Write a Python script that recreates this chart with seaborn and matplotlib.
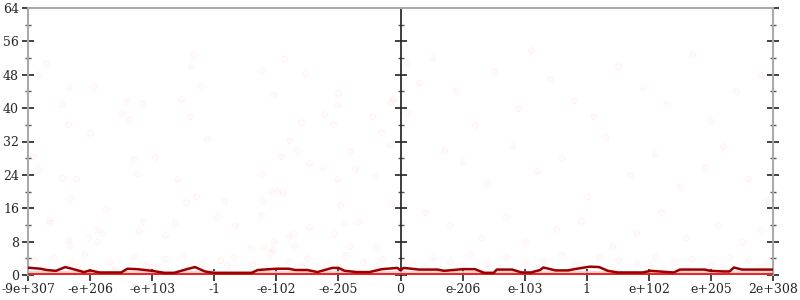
import numpy as np
import pandas as pd
import matplotlib
matplotlib.use("Agg")
import matplotlib.pyplot as plt
import seaborn as sns

# ---- data ----
tick_pos = list(range(13))
tick_labels = ["-9e+307", "-e+206", "-e+103", "-1", "-e-102", "-e-205", "0",
               "e-206", "e-103", "1", "e+102", "e+205", "2e+308"]
y_ticks = [0, 8, 16, 24, 32, 40, 48, 56, 64]

line_x = [0.0, 0.2, 0.3, 0.45, 0.6, 0.73, 0.9, 1.0, 1.15, 1.5, 1.6, 1.76, 2.0, 2.2, 2.35,
          2.56, 2.69, 2.85, 3.0, 3.6, 3.7, 4.0, 4.2, 4.3, 4.5, 4.66, 4.9, 5.0, 5.1, 5.3,
          5.5, 5.7, 5.95, 6.0, 6.05, 6.3, 6.6, 6.7, 7.0, 7.2, 7.35, 7.5, 7.55, 7.8, 7.95,
          8.1, 8.25, 8.3, 8.5, 8.7, 8.8, 9.05, 9.2, 9.34, 9.5, 9.9, 10.03, 10.4, 10.5,
          10.9, 10.99, 11.2, 11.3, 11.37, 11.5, 12.0]
line_y = [1.75, 1.5, 1.2, 1.0, 1.9, 1.4, 0.7, 1.1, 0.6, 0.6, 1.5, 1.4, 1.0, 0.5, 0.5,
          1.4, 1.9, 0.85, 0.5, 0.5, 1.2, 1.5, 1.5, 1.2, 1.2, 0.7, 1.7, 1.7, 1.0, 0.7,
          0.7, 1.4, 1.7, 1.1, 1.7, 1.3, 1.3, 1.0, 1.4, 1.4, 0.5, 0.5, 1.3, 1.3, 0.6,
          0.6, 1.2, 1.8, 1.1, 1.1, 1.4, 2.0, 1.9, 1.0, 0.6, 0.6, 1.0, 0.6, 1.3,
          1.3, 1.0, 0.85, 0.85, 1.8, 1.3, 1.3]

pts_x = [0.29, 0.17, 0.65, 1.06, 0.55, 0.64, 1.0, 1.6, 1.52, 1.63, 1.84, 2.65, 2.63, 2.79,
         2.46, 2.61, 2.88, 0.08, 0.16, 0.55, 0.78, 1.69, 2.05, 1.76, 2.40, 0.67, 1.26, 0.34,
         0.36, 1.10, 1.19, 0.97, 1.11, 0.64, 0.67, 1.78, 1.86, 2.21, 2.36, 2.54, 2.71, 3.04,
         3.16, 3.34, 3.76, 4.13, 4.46, 3.97, 5.0, 5.0, 4.76, 4.92, 4.40, 4.21, 4.34, 4.52,
         4.08, 4.75, 3.75, 5.19, 5.26, 4.98, 5.54, 5.68, 5.83, 5.88, 5.81, 5.59, 5.85, 6.10,
         6.10, 3.92, 4.01, 4.10, 3.79, 3.75, 3.96, 3.79, 3.94, 3.59, 4.19, 4.27, 4.52, 4.28,
         5.03, 5.09, 5.32, 4.93, 5.19, 5.61, 6.01,
         6.3, 6.5, 6.9, 7.2, 7.5, 7.9, 8.1, 8.4, 8.8, 9.1, 9.5, 9.9, 10.3, 10.7, 11.0, 11.4,
         11.8, 6.7, 7.0, 7.4, 7.8, 8.2, 8.6, 9.0, 9.3, 9.7, 10.1, 10.5, 10.9, 11.2, 11.6, 11.9,
         6.4, 6.8, 7.3, 7.7, 8.0, 8.5, 8.9, 9.4, 9.8, 10.2, 10.6, 11.1, 11.5, 11.8,
         0.1, 0.4, 0.7, 0.9, 1.3, 1.7, 1.9, 2.2, 2.5, 2.8, 3.1, 3.3, 3.6, 3.9, 4.2, 4.5, 4.8,
         5.1, 5.4, 5.7, 6.2, 6.5, 6.8, 7.1, 7.4, 7.7, 8.0, 8.3, 8.6, 8.9, 9.2, 9.5, 9.8,
         10.1, 10.4, 10.7, 11.0, 11.3, 11.6, 11.9,
         0.25, 0.8, 1.4, 2.0, 2.6, 3.2, 3.8, 4.4, 5.0, 5.6, 6.4, 7.0, 7.6, 8.2, 8.8, 9.4,
         10.0, 10.6, 11.2, 11.8]
pts_y = [50.8, 48.2, 45.0, 45.3, 40.9, 36.1, 34.0, 41.7, 38.8, 37.3, 41.2, 52.9, 50.1, 45.6,
         42.1, 38.1, 32.7, 28.5, 25.3, 23.3, 23.1, 27.7, 28.2, 24.4, 22.9, 18.4, 15.8, 13.2,
         12.4, 11.0, 10.0, 9.0, 8.0, 8.4, 7.0, 10.6, 13.0, 9.6, 12.6, 17.4, 19.0, 13.9,
         17.7, 12.1, 49.1, 51.8, 48.1, 43.2, 43.7, 41.1, 38.5, 36.1, 36.6, 32.4, 30.0, 26.8,
         28.5, 25.8, 24.1, 29.7, 25.3, 23.0, 38.0, 34.2, 41.5, 42.1, 31.4, 23.8, 17.2, 50.8,
         38.8, 20.1, 20.1, 19.9, 17.8, 14.4, 8.2, 6.6, 6.2, 6.5, 9.2, 9.8, 11.6, 7.3,
         16.8, 12.5, 12.9, 9.9, 7.0, 6.7, 12.9,
         46, 52, 44, 36, 49, 40, 54, 47, 42, 38, 50, 45, 41, 53, 37, 44,
         48, 30, 27, 22, 31, 25, 28, 19, 33, 24, 29, 21, 26, 31, 23, 18,
         15, 12, 9, 14, 8, 11, 13, 7, 10, 15, 9, 12, 8, 11,
         3.5, 4.2, 2.8, 5.0, 3.1, 4.6, 2.5, 3.9, 4.8, 2.9, 3.6, 4.4, 2.7, 5.2, 3.3, 4.0, 2.6,
         4.7, 3.0, 3.8, 2.4, 4.1, 3.4, 5.1, 2.9, 4.5, 3.2, 3.7, 4.9, 2.6, 4.3, 3.5, 2.8,
         4.6, 3.1, 3.9, 2.5, 4.2, 3.6, 2.9,
         1.8, 2.2, 1.6, 2.0, 1.9, 2.3, 1.7, 2.1, 1.8, 2.4, 1.9, 2.2, 1.7, 2.0, 2.3, 1.8,
         2.1, 1.6, 2.2, 1.9]

# ---- plot ----
sns.set_theme(style="white")
plt.rcParams["font.family"] = ["DejaVu Serif"]

fig = plt.figure(figsize=(8, 3), dpi=100)
ax = fig.add_axes([28 / 800, 25 / 300, 745 / 800, 267 / 300])

ax.fill_between([0, 12], 0, 1.0, color="#ffcccc", alpha=0.85, lw=0, zorder=1)
sns.scatterplot(x=pts_x, y=pts_y, ax=ax, color="#ff6060", alpha=0.035, s=22,
                edgecolor="#ff2020", linewidth=0.5, zorder=2, legend=False)
ax.axhline(0.3, color="#e8272b", lw=2.2, zorder=3)
sns.lineplot(x=line_x, y=line_y, ax=ax, color="#9a0000", lw=1.8, zorder=4,
             estimator=None, sort=False)

ax.set_xlim(0, 12)
ax.set_ylim(0, 64)
ax.set_xticks(tick_pos)
ax.set_xticklabels(tick_labels)
ax.set_yticks(y_ticks)
ax.set_yticklabels([str(v) for v in y_ticks])
ax.set_yticks(np.arange(4, 64, 8), minor=True)

for side in ["left", "right", "top"]:
    ax.spines[side].set_color("#aaaaaa")
    ax.spines[side].set_linewidth(1.5)
ax.spines["bottom"].set_visible(False)

ax.tick_params(axis="y", which="major", direction="inout", length=9, width=1.2,
               color="#222222", left=True, right=True, labelsize=9, pad=2)
ax.tick_params(axis="y", which="minor", direction="inout", length=5, width=1.0,
               color="#555555", left=True, right=True)
ax.tick_params(axis="x", which="major", direction="inout", length=9, width=1.2,
               color="#222222", bottom=True, labelsize=9, pad=1)

mid = ax.secondary_yaxis(0.5)
mid.spines["left"].set_color("#aaaaaa")
mid.spines["left"].set_linewidth(1.5)
mid.set_yticks(y_ticks)
mid.set_yticklabels([])
mid.set_yticks(np.arange(4, 64, 8), minor=True)
mid.tick_params(axis="y", which="major", direction="inout", length=9, width=1.2,
                color="#222222")
mid.tick_params(axis="y", which="minor", direction="inout", length=5, width=1.0,
                color="#555555")

ax.set_xlabel("")
ax.set_ylabel("")
fig.savefig("out.png", dpi=100)
